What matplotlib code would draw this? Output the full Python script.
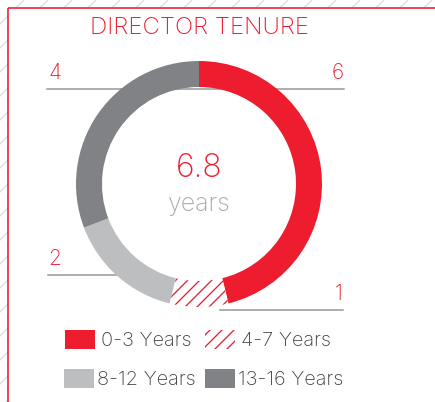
import matplotlib
matplotlib.use("Agg")
import matplotlib.pyplot as plt
from matplotlib.patches import Rectangle

# ---- data ----
categories = ["0-3 Years", "4-7 Years", "8-12 Years", "13-16 Years"]
counts = [6, 1, 2, 4]
average_tenure = "6.8"
average_unit = "years"
title = "DIRECTOR TENURE"

RED = "#ED1C2E"
LGRAY = "#BCBEC0"
DGRAY = "#808285"
LINE = "#939598"
TXT = "#414042"
colors = [RED, "white", LGRAY, DGRAY]

W, H = 435, 402
plt.rcParams["hatch.linewidth"] = 1.3
fig = plt.figure(figsize=(W / 72, H / 72), dpi=72)
ax = fig.add_axes([0, 0, 1, 1])
FONT = ["Inter", "DejaVu Sans"]

def Y(y):
    return H - y

# background hatched border region
ax.add_patch(Rectangle((0, 0), W, H, facecolor="white", edgecolor="#DADADA",
                       hatch="/", linewidth=0, zorder=0))
ax.add_patch(Rectangle((8, 0), W - 8, Y(8), facecolor="white", linewidth=0, zorder=0.5))
ax.plot([8, 8], [0, Y(8)], color=RED, lw=1.6, zorder=1, solid_capstyle="butt")
ax.plot([8, W], [Y(8), Y(8)], color=RED, lw=1.6, zorder=1, solid_capstyle="butt")

# title
ax.text(199, Y(34), title, color=RED, fontsize=24, family=FONT, fontweight="light",
        ha="center", va="baseline", zorder=3)

# leader lines (behind ring)
ax.plot([47, 344], [Y(89), Y(89)], color=LINE, lw=1.5, zorder=1)
ax.plot([48, 140], [Y(275), Y(275)], color=LINE, lw=1.5, zorder=1)
ax.plot([220, 343], [Y(310), Y(310)], color=LINE, lw=1.5, zorder=1)

# donut
cx, cy, R, wdt = 199, Y(184), 123, 26
wedges, _ = ax.pie(counts, colors=colors, startangle=90, counterclock=False,
                   radius=R, center=(cx, cy),
                   wedgeprops=dict(width=wdt, linewidth=0))
for w in wedges:
    w.set_zorder(2)
wedges[1].set_hatch("//")
wedges[1].set_edgecolor(RED)
wedges[1].set_linewidth(0)

# value labels
lab_kw = dict(color=RED, fontsize=21, family=FONT, fontweight="light", va="baseline", zorder=3)
ax.text(48, Y(79), str(counts[3]), ha="left", **lab_kw)
ax.text(344, Y(79), str(counts[0]), ha="right", **lab_kw)
ax.text(48, Y(265), str(counts[2]), ha="left", **lab_kw)
ax.text(343, Y(300), str(counts[1]), ha="right", **lab_kw)

# centre text
ax.text(cx, Y(177), average_tenure, color=RED, fontsize=32, family=FONT,
        fontweight="light", ha="center", va="baseline", zorder=3)
ax.text(cx, Y(211), average_unit, color="#A7A9AC", fontsize=25, family=FONT,
        fontweight="light", ha="center", va="baseline", zorder=3)

# legend
legend_pos = [(65, 330, 101, 346), (205, 330, 241, 346), (64, 369, 97, 385), (205, 369, 238, 385)]
for i, (sx, sy, tx, ty) in enumerate(legend_pos):
    rect = Rectangle((sx, Y(sy + 19)), 30, 19, facecolor=colors[i], linewidth=0, zorder=2)
    if i == 1:
        rect.set_hatch("//")
        rect.set_edgecolor(RED)
    ax.add_patch(rect)
    ax.text(tx, Y(ty), categories[i], color=TXT, fontsize=20, family=FONT,
            fontweight="light", ha="left", va="baseline", zorder=3)

ax.set_xlim(0, W)
ax.set_ylim(0, H)
ax.set_aspect("auto")
ax.axis("off")
fig.savefig("out.png", dpi=72)
